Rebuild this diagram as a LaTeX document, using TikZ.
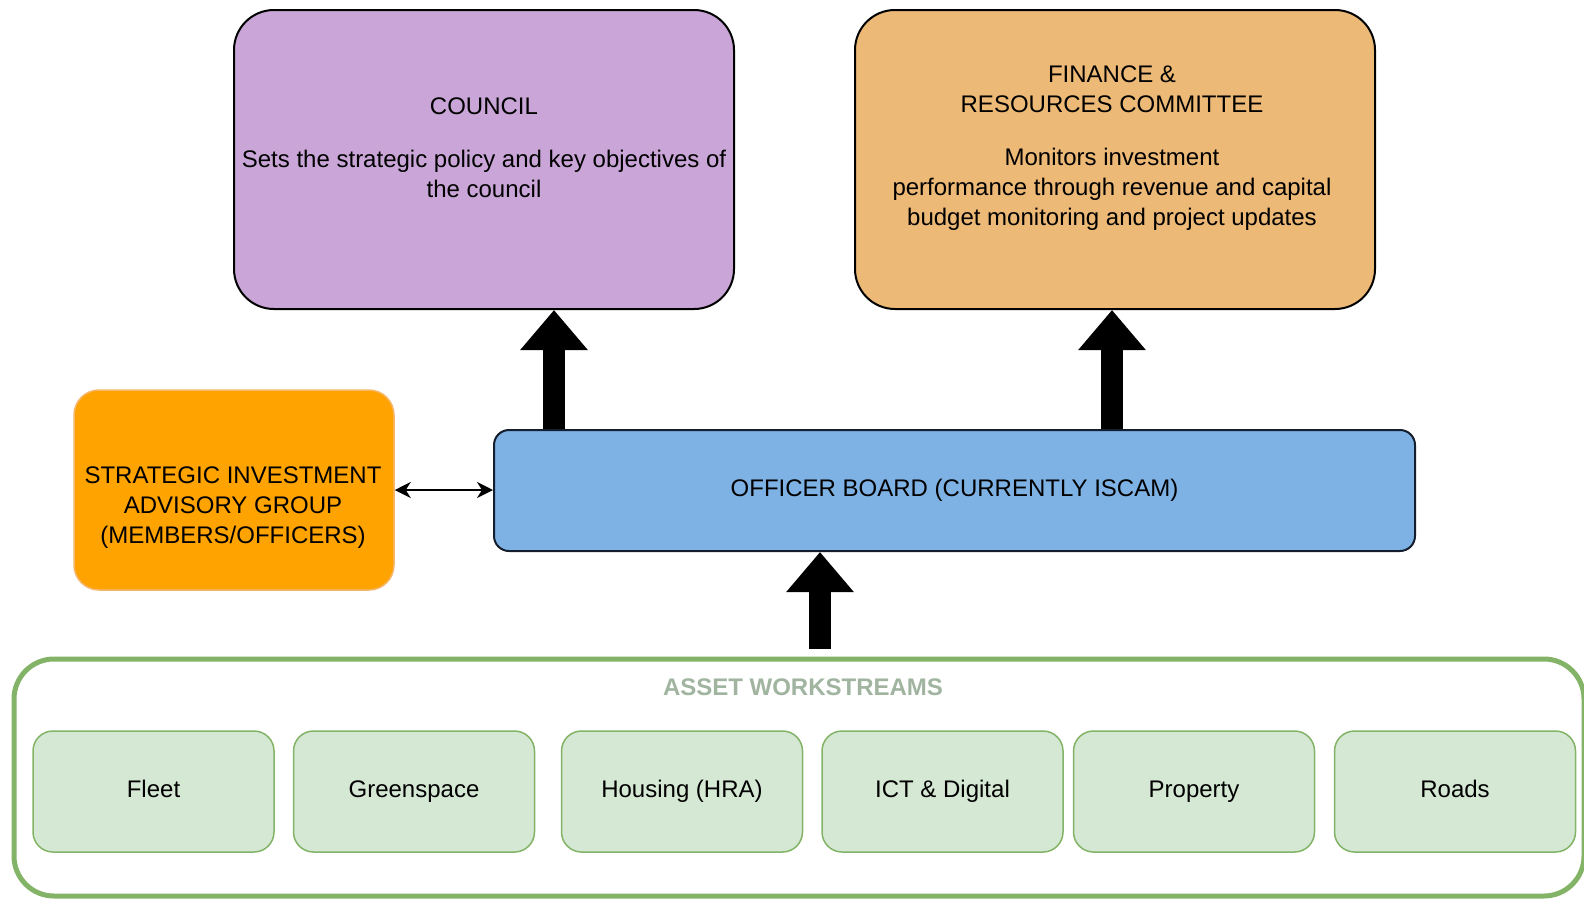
\documentclass[tikz,border=0pt]{standalone}
\usepackage{fontspec}
\setmainfont{Liberation Sans}
\usetikzlibrary{arrows.meta}
\definecolor{councilfill}{RGB}{201,166,215}
\definecolor{financefill}{RGB}{237,185,119}
\definecolor{sigfill}{RGB}{255,163,0}
\definecolor{sigdraw}{RGB}{245,183,110}
\definecolor{officerfill}{RGB}{127,178,228}
\definecolor{officerdraw}{RGB}{20,30,45}
\definecolor{wsfill}{RGB}{213,232,212}
\definecolor{wsdraw}{RGB}{130,179,102}
\definecolor{wstitle}{RGB}{160,180,160}
\begin{document}
\begin{tikzpicture}[x=1pt,y=-1pt,
  txt/.style={font=\fontsize{24}{30}\selectfont, align=center, text=black},
  bigbox/.style={draw=black, line width=2pt, rounded corners=40pt, minimum height=299pt},
  wsbox/.style={draw=wsdraw, fill=wsfill, line width=1.5pt, rounded corners=20pt,
    minimum width=241pt, minimum height=121pt, font=\fontsize{24}{30}\selectfont,
    text height=17.5pt, text depth=5pt},
  fatarrow/.style={line width=22pt, -{Triangle[width=65pt,length=40pt]}},
  thinarrow/.style={line width=2pt, {Stealth[length=16pt,width=16pt,inset=5pt]}-{Stealth[length=16pt,width=16pt,inset=5pt]}}
]
\useasboundingbox (0,0) rectangle (1584,900);

% top boxes
\node[bigbox, fill=councilfill, minimum width=500pt] (council) at (484,159.5) {};
\node[txt] (counciltext) at (484,147.5) {COUNCIL\\[23pt]Sets the strategic policy and key objectives of\\the council};

\node[bigbox, fill=financefill, minimum width=520pt] (finance) at (1115,159.5) {};
\node[txt] (financetext) at (1112,148) {FINANCE \&\\RESOURCES COMMITTEE\\[23pt]Monitors investment\\performance through revenue and capital\\budget monitoring and project updates};

% middle
\node[draw=sigdraw, fill=sigfill, line width=1.5pt, rounded corners=25pt,
  minimum width=320pt, minimum height=200pt] (sig) at (234,490) {};
\node[txt] (sigtext) at (233,508) {STRATEGIC INVESTMENT\\ADVISORY GROUP\\(MEMBERS/OFFICERS)};

\node[draw=officerdraw, fill=officerfill, line width=2pt, rounded corners=15pt,
  minimum width=921pt, minimum height=121pt, txt] (officer) at (954.5,490.5) {OFFICER BOARD (CURRENTLY ISCAM)};

% workstreams container
\node[draw=wsdraw, line width=5pt, rounded corners=40pt,
  minimum width=1570pt, minimum height=237pt] (outer) at (799,777.5) {};
\node[font=\fontsize{24}{30}\selectfont\bfseries, text=wstitle] (wstitle) at (803,687) {ASSET WORKSTREAMS};

\node[wsbox] (fleet) at (153.5,791.5) {Fleet};
\node[wsbox] (green) at (414,791.5) {Greenspace};
\node[wsbox] (housing) at (682,791.5) {Housing (HRA)};
\node[wsbox] (ict) at (942.5,791.5) {ICT \& Digital};
\node[wsbox] (property) at (1194,791.5) {Property};
\node[wsbox] (roads) at (1455,791.5) {Roads};

% arrows
\coordinate (cax) at (554,0);
\coordinate (fax) at (1112,0);
\coordinate (wsout) at (820,649);
\draw[fatarrow] (officer.north -| cax) -- (council.south -| cax);
\draw[fatarrow] (officer.north -| fax) -- (finance.south -| fax);
\draw[fatarrow] (wsout) -- (officer.south -| wsout);
\draw[thinarrow] (sig.east) -- (sig.east -| officer.west);
\end{tikzpicture}
\end{document}
